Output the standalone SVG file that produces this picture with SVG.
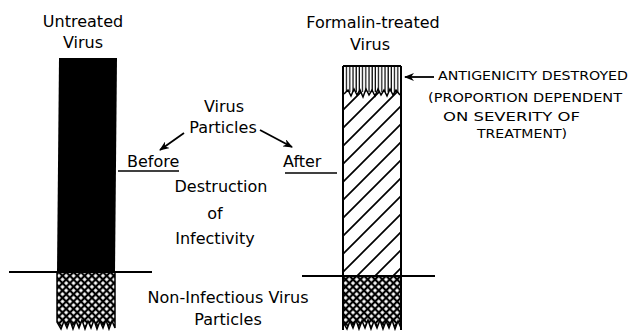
<svg xmlns="http://www.w3.org/2000/svg" width="637" height="335" viewBox="0 0 637 335">
<style>
text{font-family:"DejaVu Sans","Liberation Sans",sans-serif;font-size:16px;fill:#000}
.c{text-anchor:middle}
.u{font-size:13px}
.ln{stroke:#000;stroke-width:2;fill:none}
.ar{stroke:#000;stroke-width:1.8;fill:none;marker-end:url(#ah)}
</style>
<defs>
<marker id="ah" markerWidth="10" markerHeight="8" refX="9" refY="4" orient="auto" markerUnits="userSpaceOnUse">
<path d="M0,0 L10,4 L0,8 L3,4 Z" fill="#000"/>
</marker>
<pattern id="xh" width="5.2" height="5.2" patternUnits="userSpaceOnUse" patternTransform="rotate(45)">
<rect width="5.2" height="5.2" fill="#000"/>
<rect x="1.1" y="1.1" width="3" height="3" fill="#fff"/>
</pattern>
<pattern id="dh" width="18" height="18" patternUnits="userSpaceOnUse" x="343" y="92">
<rect width="18" height="18" fill="#fff"/>
<path d="M-2,20 L20,-2 M-2,2 L2,-2 M16,20 L20,16" stroke="#000" stroke-width="1.7"/>
</pattern>
<pattern id="vh" width="3.2" height="10" patternUnits="userSpaceOnUse">
<rect width="3.2" height="10" fill="#fff"/>
<line x1="1" y1="0" x2="1" y2="10" stroke="#000" stroke-width="1.2"/>
</pattern>
</defs>

<g id="untreated-bar">
<polygon points="59,58 117,58 115,272 57,272" fill="#000"/>
<path d="M57,272 H115 V328 L112,321 L109,329 L106,320 L103,328 L100,321 L97,329 L94,320 L91,328 L88,321 L85,329 L82,320 L79,328 L76,321 L73,329 L70,320 L67,328 L64,321 L61,329 L57,322 Z" fill="url(#xh)" stroke="#000" stroke-width="1.5"/>
</g>

<g id="treated-bar">
<rect x="343" y="66" width="58" height="30" fill="url(#vh)"/>
<rect x="343" y="92" width="58" height="184" fill="url(#dh)"/>
<path d="M343,66 H401" class="ln"/>
<path d="M344,94 L348,90 L351,96 L354,89 L357,95 L360,90 L363,97 L366,89 L369,95 L372,90 L375,96 L378,89 L381,95 L384,90 L387,96 L390,89 L393,95 L396,90 L400,95" stroke="#000" stroke-width="1.5" fill="none"/>
<path d="M343,276 H401 V328 L398,321 L395,329 L392,320 L389,328 L386,321 L383,329 L380,320 L377,328 L374,321 L371,329 L368,320 L365,328 L362,321 L359,329 L356,320 L353,328 L350,321 L347,329 L343,322 Z" fill="url(#xh)" stroke="#000" stroke-width="1.5"/>
<path d="M343,66 V330 M401,66 V330" class="ln"/>
</g>

<g id="connectors">
<path d="M9,272 H152" class="ln"/>
<path d="M302,276 H435" class="ln"/>
<path d="M118,171 H179" stroke="#000" stroke-width="1.6"/>
<path d="M285,173 H337" stroke="#000" stroke-width="1.6"/>
<path d="M184,133 L160,150" class="ar"/>
<path d="M260,130 L292,147" class="ar"/>
<path d="M434,77 L405,77" class="ar"/>
</g>

<g id="labels">
<text class="c" x="83" y="27">Untreated</text>
<text class="c" x="83" y="48">Virus</text>
<text class="c" x="373" y="28">Formalin-treated</text>
<text class="c" x="370" y="50">Virus</text>
<text class="c" x="224" y="112">Virus</text>
<text class="c" x="223" y="133">Particles</text>
<text x="127" y="167">Before</text>
<text x="283" y="167">After</text>
<text class="c" x="221" y="192">Destruction</text>
<text class="c" x="215" y="219">of</text>
<text class="c" x="215" y="244">Infectivity</text>
<text class="c" x="228" y="303">Non-Infectious Virus</text>
<text class="c" x="228" y="325">Particles</text>
<text class="u" x="438" y="80" textLength="190" lengthAdjust="spacingAndGlyphs">ANTIGENICITY DESTROYED</text>
<text class="u" x="428" y="102" textLength="194" lengthAdjust="spacingAndGlyphs">(PROPORTION DEPENDENT</text>
<text class="u" x="443" y="121" textLength="137" lengthAdjust="spacingAndGlyphs">ON SEVERITY OF</text>
<text class="u" x="477" y="138" textLength="90" lengthAdjust="spacingAndGlyphs">TREATMENT)</text>
</g>
</svg>
